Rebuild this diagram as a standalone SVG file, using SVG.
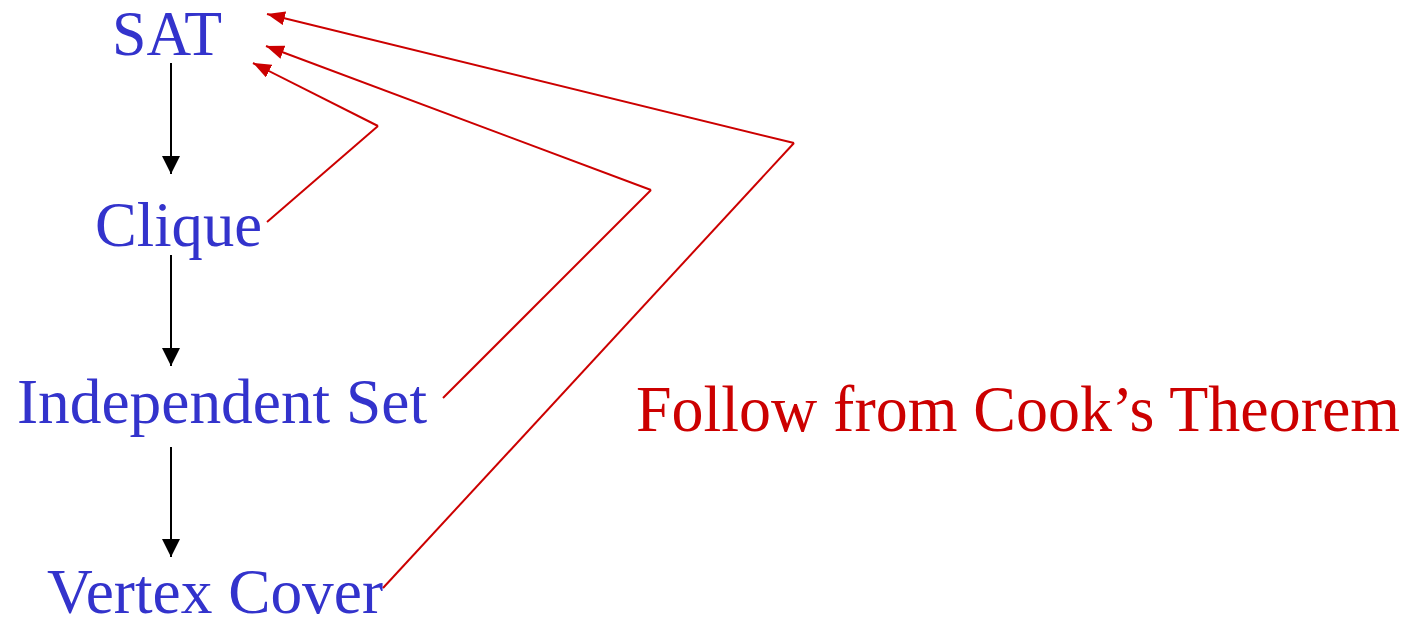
<svg xmlns="http://www.w3.org/2000/svg" width="1418" height="619" viewBox="0 0 1418 619">
<style>
.node text{font-family:"Liberation Serif","Times New Roman",serif;font-size:64px;fill:#3333CC}
.lbl{font-family:"Liberation Serif","Times New Roman",serif;font-size:66px;fill:#CC0000}
.blk{stroke:#000;stroke-width:2;fill:none}
.red{stroke:#CC0000;stroke-width:2;fill:none}
</style>
<defs>
<marker id="ab" markerUnits="userSpaceOnUse" markerWidth="18" markerHeight="18" viewBox="0 0 16 16" refX="16" refY="8" orient="auto">
<path d="M0,0 L16,8 L0,16 Z" fill="#000"/>
</marker>
<marker id="ar" markerUnits="userSpaceOnUse" markerWidth="18" markerHeight="14" viewBox="0 0 18 14" refX="18" refY="7" orient="auto">
<path d="M0,0 L18,7 L0,14 Z" fill="#CC0000"/>
</marker>
</defs>
<g id="sat" class="node"><text x="112" y="55" textLength="110" lengthAdjust="spacingAndGlyphs">SAT</text></g>
<g id="clique" class="node"><text x="95" y="246" textLength="167" lengthAdjust="spacingAndGlyphs">Clique</text></g>
<g id="indset" class="node"><text x="17" y="423" textLength="410" lengthAdjust="spacingAndGlyphs">Independent Set</text></g>
<g id="vcover" class="node"><text x="47" y="613" textLength="336" lengthAdjust="spacingAndGlyphs">Vertex Cover</text></g>
<g id="note"><text class="lbl" x="636" y="431" textLength="764" lengthAdjust="spacingAndGlyphs">Follow from Cook’s Theorem</text></g>
<g id="connectors">
<line class="blk" x1="171" y1="63" x2="171" y2="174" marker-end="url(#ab)"/>
<line class="blk" x1="171" y1="255" x2="171" y2="366" marker-end="url(#ab)"/>
<line class="blk" x1="171" y1="447" x2="171" y2="557" marker-end="url(#ab)"/>
<polyline class="red" stroke-width="1.5" points="267,222 378,126" />
<polyline class="red" points="378,126 253,63" marker-end="url(#ar)"/>
<polyline class="red" stroke-width="1.5" points="443,398 651,190"/>
<polyline class="red" points="651,190 266,46" marker-end="url(#ar)"/>
<polyline class="red" stroke-width="1.5" points="383,588 794,143"/>
<polyline class="red" points="794,143 267,14" marker-end="url(#ar)"/>
</g>
</svg>
